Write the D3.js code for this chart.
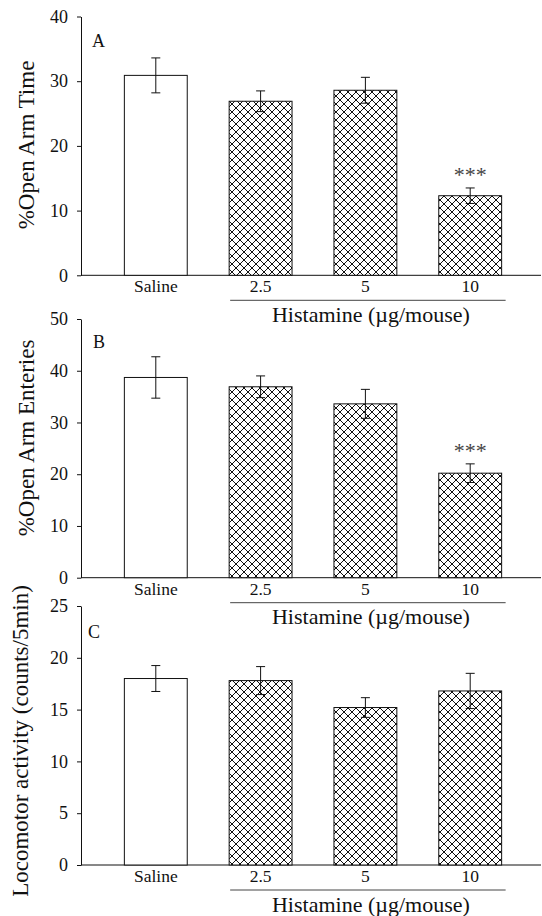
<!DOCTYPE html>
<html>
<head>
<meta charset="utf-8">
<script src="https://d3js.org/d3.v7.min.js"></script>
<style>
  body { margin: 0; background: #fff; }
  svg text { font-family: "Liberation Serif", "Times New Roman", serif; fill: #111; }
</style>
</head>
<body>
<svg id="chart" width="542" height="916"></svg>
<script>
// data
var groups = ["Saline", "2.5", "5", "10"];

var openTime = [30.9, 26.9, 28.6, 12.3];
var openTimeErr = [2.7, 1.6, 2.0, 1.2];
var openTimeSig = ["", "", "", "***"];

var openEntries = [38.7, 36.9, 33.6, 20.2];
var openEntriesErr = [4.0, 2.1, 2.8, 1.8];
var openEntriesSig = ["", "", "", "***"];

var locomotor = [18.0, 17.8, 15.2, 16.8];
var locomotorErr = [1.25, 1.35, 0.95, 1.7];
var locomotorSig = ["", "", "", ""];

var xTitle = "Histamine (\u00b5g/mouse)";

var panels = [
  {letter: "A", ylabel: "%Open Arm Time", values: openTime, err: openTimeErr, sig: openTimeSig,
   max: 40, step: 10, top: 16.5, bottom: 275.3, labX: 34, labY: 145, letX: 92, letY: 47},
  {letter: "B", ylabel: "%Open Arm Enteries", values: openEntries, err: openEntriesErr, sig: openEntriesSig,
   max: 50, step: 10, top: 319, bottom: 577.7, labX: 34, labY: 438, letX: 93, letY: 348},
  {letter: "C", ylabel: "Locomotor activity (counts/5min)", values: locomotor, err: locomotorErr, sig: locomotorSig,
   max: 25, step: 5, top: 606, bottom: 865, labX: 28, labY: 741, letX: 88, letY: 638}
];

var svg = d3.select("#chart");

// cross hatch for the histamine bars
var defs = svg.append("defs");
var pat = defs.append("pattern")
    .attr("id", "hatch")
    .attr("patternUnits", "userSpaceOnUse")
    .attr("width", 8).attr("height", 8);
pat.append("rect").attr("width", 8).attr("height", 8).attr("fill", "#fff");
pat.append("path")
    .attr("d", "M-2,2L2,-2 M0,8L8,0 M6,10L10,6 M-2,6L2,10 M0,0L8,8 M6,-2L10,2")
    .attr("stroke", "#111").attr("stroke-width", 1);

var axisX0 = 81, axisX1 = 541;

var x = d3.scaleBand()
    .domain(groups)
    .range([103.4, 522.6])
    .paddingInner(0.4)
    .paddingOuter(0.2);

panels.forEach(function(p) {
  var y = d3.scaleLinear().domain([0, p.max]).range([p.bottom, p.top]);
  var g = svg.append("g");

  // y axis
  var yAxis = g.append("g")
      .attr("transform", "translate(" + axisX0 + ",0)")
      .call(d3.axisLeft(y).tickValues(d3.range(0, p.max + 0.001, p.step)).tickSize(4).tickPadding(9).tickSizeOuter(0));
  yAxis.select(".domain").attr("stroke", "#111");
  yAxis.selectAll(".tick line").attr("stroke", "#111");
  yAxis.selectAll("text").attr("font-size", 18).attr("font-family", null).style("fill", "#111");

  // x axis line (no ticks)
  g.append("line")
      .attr("x1", axisX0).attr("x2", axisX1)
      .attr("y1", y(0)).attr("y2", y(0))
      .attr("stroke", "#111");

  var data = groups.map(function(k, i) {
    return {k: k, v: p.values[i], e: p.err[i], s: p.sig[i]};
  });

  g.selectAll(".bar").data(data).enter().append("rect")
      .attr("class", "bar")
      .attr("x", function(d) { return x(d.k); })
      .attr("width", x.bandwidth())
      .attr("y", function(d) { return y(d.v); })
      .attr("height", function(d) { return y(0) - y(d.v); })
      .attr("fill", function(d, i) { return i === 0 ? "#fff" : "url(#hatch)"; })
      .attr("stroke", "#111").attr("stroke-width", 1);

  // error bars
  var eb = g.selectAll(".err").data(data).enter().append("g").attr("class", "err")
      .attr("stroke", "#111").attr("stroke-width", 1);
  eb.append("line")
      .attr("x1", function(d) { return x(d.k) + x.bandwidth() / 2; })
      .attr("x2", function(d) { return x(d.k) + x.bandwidth() / 2; })
      .attr("y1", function(d) { return y(d.v + d.e); })
      .attr("y2", function(d) { return y(d.v - d.e); });
  eb.append("line")
      .attr("x1", function(d) { return x(d.k) + x.bandwidth() / 2 - 4.5; })
      .attr("x2", function(d) { return x(d.k) + x.bandwidth() / 2 + 4.5; })
      .attr("y1", function(d) { return y(d.v + d.e); })
      .attr("y2", function(d) { return y(d.v + d.e); });
  eb.append("line")
      .attr("x1", function(d) { return x(d.k) + x.bandwidth() / 2 - 4.5; })
      .attr("x2", function(d) { return x(d.k) + x.bandwidth() / 2 + 4.5; })
      .attr("y1", function(d) { return y(d.v - d.e); })
      .attr("y2", function(d) { return y(d.v - d.e); });

  // significance stars
  g.selectAll(".sig").data(data.filter(function(d) { return d.s; })).enter().append("text")
      .attr("x", function(d) { return x(d.k) + x.bandwidth() / 2; })
      .attr("y", function(d) { return y(d.v + d.e) - 6; })
      .attr("text-anchor", "middle")
      .attr("font-size", 22)
      .style("fill", "#444")
      .text(function(d) { return d.s; });

  // category labels
  g.selectAll(".cat").data(groups).enter().append("text")
      .attr("x", function(d) { return x(d) + x.bandwidth() / 2; })
      .attr("y", y(0) + 17)
      .attr("text-anchor", "middle")
      .attr("font-size", 17.5)
      .text(function(d) { return d; });

  // histamine bracket line and title
  var lx0 = x("2.5") + 1, lx1 = x("10") + x.bandwidth() + 4;
  g.append("line")
      .attr("x1", lx0).attr("x2", lx1)
      .attr("y1", y(0) + 25).attr("y2", y(0) + 25)
      .attr("stroke", "#444").attr("stroke-width", 1);
  g.append("text")
      .attr("x", (lx0 + lx1) / 2 + 3)
      .attr("y", y(0) + 46.5)
      .attr("text-anchor", "middle")
      .attr("font-size", 22)
      .text(xTitle);

  // panel letter
  g.append("text")
      .attr("x", p.letX).attr("y", p.letY)
      .attr("font-size", 18)
      .text(p.letter);

  // y label
  g.append("text")
      .attr("transform", "translate(" + p.labX + "," + p.labY + ") rotate(-90)")
      .attr("text-anchor", "middle")
      .attr("font-size", 23)
      .text(p.ylabel);
});
</script>
</body>
</html>
